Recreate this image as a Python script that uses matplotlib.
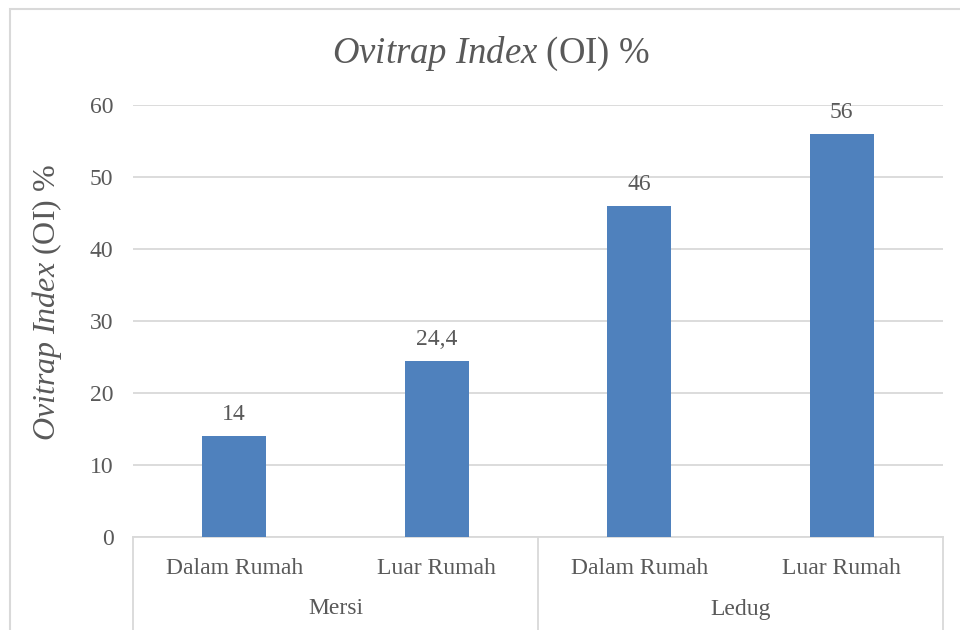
import matplotlib
matplotlib.use("Agg")
import matplotlib.pyplot as plt
from matplotlib.patches import Rectangle
import matplotlib.transforms as mtransforms

groups = ["Mersi", "Ledug"]
categories = ["Dalam Rumah", "Luar Rumah", "Dalam Rumah", "Luar Rumah"]
values = [14, 24.4, 46, 56]
value_labels = ["14", "24,4", "46", "56"]
yticks = [0, 10, 20, 30, 40, 50, 60]

TXT = "#595959"
GRID = "#D9D9D9"
BAR = "#4F81BD"
plt.rcParams['font.family'] = ['Liberation Serif', 'DejaVu Serif']
plt.rcParams['mathtext.fontset'] = 'custom'
plt.rcParams['mathtext.rm'] = 'Liberation Serif'
plt.rcParams['mathtext.it'] = 'Liberation Serif:italic'

fig = plt.figure(figsize=(9.6, 6.3), dpi=100)
# chart border
fig.patches.append(Rectangle((10/960, -0.05), 1.2, (630-9)/630 + 0.05,
                             transform=fig.transFigure, fill=False,
                             edgecolor=GRID, linewidth=1.5, zorder=0))

ax = fig.add_axes([133/960, (630-537)/630, (943-133)/960, (537-105)/630])
x = list(range(len(values)))
ax.bar(x, values, width=0.315, color=BAR, zorder=3)
ax.set_xlim(-0.5, len(values) - 0.5)
ax.set_ylim(0, 60)
ax.set_yticks(yticks)
ax.set_yticklabels([str(t) for t in yticks], color=TXT, fontsize=17)
ax.tick_params(axis='y', length=0, pad=14)
ax.yaxis.grid(True, color=GRID, linewidth=1.3, zorder=0)
for s in ["top", "right", "left"]:
    ax.spines[s].set_visible(False)
ax.spines["bottom"].set_color(GRID)
ax.spines["bottom"].set_linewidth(1.3)
ax.set_xticks([])

for xi, v, lab in zip(x, values, value_labels):
    ax.annotate(lab, (xi, v), xytext=(0, 8), textcoords="offset points",
                ha="center", va="bottom", fontsize=17, color=TXT)

trans = mtransforms.blended_transform_factory(ax.transData, ax.transAxes)
ybot = -(630 - 537) / 432
for xv in [-0.5, 1.5, 3.5]:
    ax.plot([xv, xv], [0, ybot], transform=trans, color=GRID, lw=1.3, clip_on=False)
for xi, c in zip(x, categories):
    ax.text(xi, -31/432, c, transform=trans, ha="center", va="center",
            fontsize=17, color=TXT)
for gi, g in enumerate(groups):
    ax.text(gi * 2 + 0.5, -72/432, g, transform=trans, ha="center", va="center",
            fontsize=17, color=TXT)

fig.text(491/960, 1 - 54/630, r"$\it{Ovitrap\ Index}$ (OI) %", ha="center", va="center",
         fontsize=26.5, color=TXT)
fig.text(47/960, 1 - 302/630, r"$\it{Ovitrap\ Index}$ (OI) %", rotation=90,
         ha="center", va="center", fontsize=23, color=TXT)

fig.savefig("out.png", dpi=100)
